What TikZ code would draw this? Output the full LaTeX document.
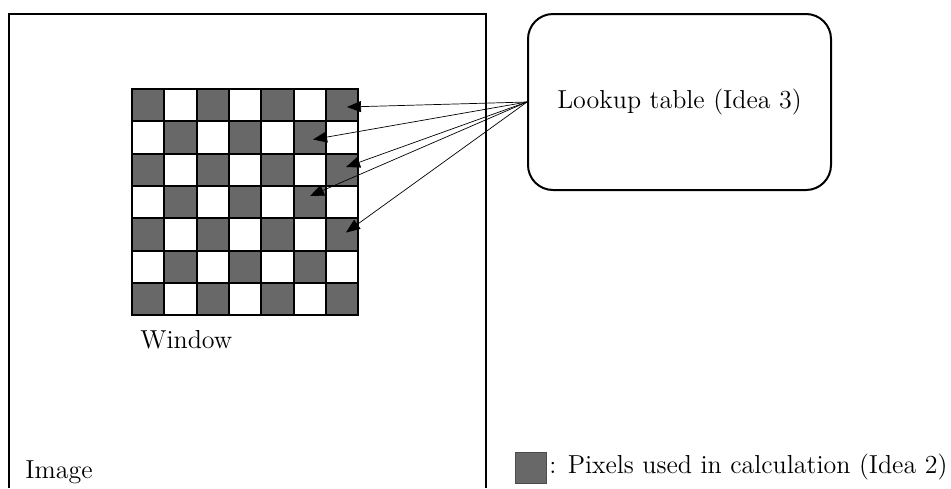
\documentclass[tikz,border=0pt]{standalone}
\usetikzlibrary{arrows.meta}
\definecolor{used}{RGB}{104, 104, 104}

\tikzset{
	usedpx/.style={draw=black, fill=used, line width=0.7pt},
	freepx/.style={draw=black, fill=white, line width=0.7pt},
	lookup/.style={-{Triangle[length=7pt, width=5.5pt]}, line width=0.35pt},
	label/.style={font=\fontsize{13}{15}\selectfont, inner sep=0pt}
}

\begin{document}
\begin{tikzpicture}[x=0.5pt, y=-0.5pt]
			\useasboundingbox (0, 0) rectangle (951, 488);
			% image frame, open at the bottom
			\draw [line width=1pt] (9, 488) -- (9, 14) -- (486, 14) -- (486, 488);
			\node [label, anchor=base west] (image) at (25, 478) {Image};
			% window row 0
			\filldraw [usedpx] (132, 89) rectangle (164, 121) node[midway] (p0-0) {};
			\filldraw [freepx] (164, 89) rectangle (197, 121) node[midway] (p0-1) {};
			\filldraw [usedpx] (197, 89) rectangle (229, 121) node[midway] (p0-2) {};
			\filldraw [freepx] (229, 89) rectangle (261, 121) node[midway] (p0-3) {};
			\filldraw [usedpx] (261, 89) rectangle (294, 121) node[midway] (p0-4) {};
			\filldraw [freepx] (294, 89) rectangle (326, 121) node[midway] (p0-5) {};
			\filldraw [usedpx] (326, 89) rectangle (358, 121) node[midway] (p0-6) {};
			% row 1
			\filldraw [freepx] (132, 121) rectangle (164, 154) node[midway] (p1-0) {};
			\filldraw [usedpx] (164, 121) rectangle (197, 154) node[midway] (p1-1) {};
			\filldraw [freepx] (197, 121) rectangle (229, 154) node[midway] (p1-2) {};
			\filldraw [usedpx] (229, 121) rectangle (261, 154) node[midway] (p1-3) {};
			\filldraw [freepx] (261, 121) rectangle (294, 154) node[midway] (p1-4) {};
			\filldraw [usedpx] (294, 121) rectangle (326, 154) node[midway] (p1-5) {};
			\filldraw [freepx] (326, 121) rectangle (358, 154) node[midway] (p1-6) {};
			% row 2
			\filldraw [usedpx] (132, 154) rectangle (164, 186) node[midway] (p2-0) {};
			\filldraw [freepx] (164, 154) rectangle (197, 186) node[midway] (p2-1) {};
			\filldraw [usedpx] (197, 154) rectangle (229, 186) node[midway] (p2-2) {};
			\filldraw [freepx] (229, 154) rectangle (261, 186) node[midway] (p2-3) {};
			\filldraw [usedpx] (261, 154) rectangle (294, 186) node[midway] (p2-4) {};
			\filldraw [freepx] (294, 154) rectangle (326, 186) node[midway] (p2-5) {};
			\filldraw [usedpx] (326, 154) rectangle (358, 186) node[midway] (p2-6) {};
			% row 3
			\filldraw [freepx] (132, 186) rectangle (164, 218) node[midway] (p3-0) {};
			\filldraw [usedpx] (164, 186) rectangle (197, 218) node[midway] (p3-1) {};
			\filldraw [freepx] (197, 186) rectangle (229, 218) node[midway] (p3-2) {};
			\filldraw [usedpx] (229, 186) rectangle (261, 218) node[midway] (p3-3) {};
			\filldraw [freepx] (261, 186) rectangle (294, 218) node[midway] (p3-4) {};
			\filldraw [usedpx] (294, 186) rectangle (326, 218) node[midway] (p3-5) {};
			\filldraw [freepx] (326, 186) rectangle (358, 218) node[midway] (p3-6) {};
			% row 4
			\filldraw [usedpx] (132, 218) rectangle (164, 251) node[midway] (p4-0) {};
			\filldraw [freepx] (164, 218) rectangle (197, 251) node[midway] (p4-1) {};
			\filldraw [usedpx] (197, 218) rectangle (229, 251) node[midway] (p4-2) {};
			\filldraw [freepx] (229, 218) rectangle (261, 251) node[midway] (p4-3) {};
			\filldraw [usedpx] (261, 218) rectangle (294, 251) node[midway] (p4-4) {};
			\filldraw [freepx] (294, 218) rectangle (326, 251) node[midway] (p4-5) {};
			\filldraw [usedpx] (326, 218) rectangle (358, 251) node[midway] (p4-6) {};
			% row 5
			\filldraw [freepx] (132, 251) rectangle (164, 283) node[midway] (p5-0) {};
			\filldraw [usedpx] (164, 251) rectangle (197, 283) node[midway] (p5-1) {};
			\filldraw [freepx] (197, 251) rectangle (229, 283) node[midway] (p5-2) {};
			\filldraw [usedpx] (229, 251) rectangle (261, 283) node[midway] (p5-3) {};
			\filldraw [freepx] (261, 251) rectangle (294, 283) node[midway] (p5-4) {};
			\filldraw [usedpx] (294, 251) rectangle (326, 283) node[midway] (p5-5) {};
			\filldraw [freepx] (326, 251) rectangle (358, 283) node[midway] (p5-6) {};
			% row 6
			\filldraw [usedpx] (132, 283) rectangle (164, 315) node[midway] (p6-0) {};
			\filldraw [freepx] (164, 283) rectangle (197, 315) node[midway] (p6-1) {};
			\filldraw [usedpx] (197, 283) rectangle (229, 315) node[midway] (p6-2) {};
			\filldraw [freepx] (229, 283) rectangle (261, 315) node[midway] (p6-3) {};
			\filldraw [usedpx] (261, 283) rectangle (294, 315) node[midway] (p6-4) {};
			\filldraw [freepx] (294, 283) rectangle (326, 315) node[midway] (p6-5) {};
			\filldraw [usedpx] (326, 283) rectangle (358, 315) node[midway] (p6-6) {};
			\draw [line width=1pt] (132, 89) rectangle (358, 315);
			\node [label, anchor=base west] (window) at (140, 348) {Window};
			% lookup table and its arrows
			\node [draw, line width=1pt, rounded corners=12.5pt, minimum width=151.5pt, minimum height=88pt, label] (lut) at (679.5, 102) {Lookup table (Idea 3)};
			\draw [lookup] (lut.west) -- ([xshift=2.5pt, yshift=-1pt]p0-6.center);
			\draw [lookup] (lut.west) -- ([xshift=1.5pt, yshift=-1pt]p1-5.center);
			\draw [lookup] (lut.west) -- ([xshift=2pt, yshift=1.5pt]p2-6.center);
			\draw [lookup] (lut.west) -- ([xshift=0pt, yshift=3pt]p3-5.center);
			\draw [lookup] (lut.west) -- ([xshift=2pt, yshift=1pt]p4-6.center);
			% legend
			\filldraw [draw=black!70, fill=used, line width=0.5pt] (515, 452) rectangle (546, 483) node[midway] (key) {};
			\node [label, anchor=west] (keytext) at (549, 467) {: Pixels used in calculation (Idea 2)};
		\end{tikzpicture}
\end{document}
